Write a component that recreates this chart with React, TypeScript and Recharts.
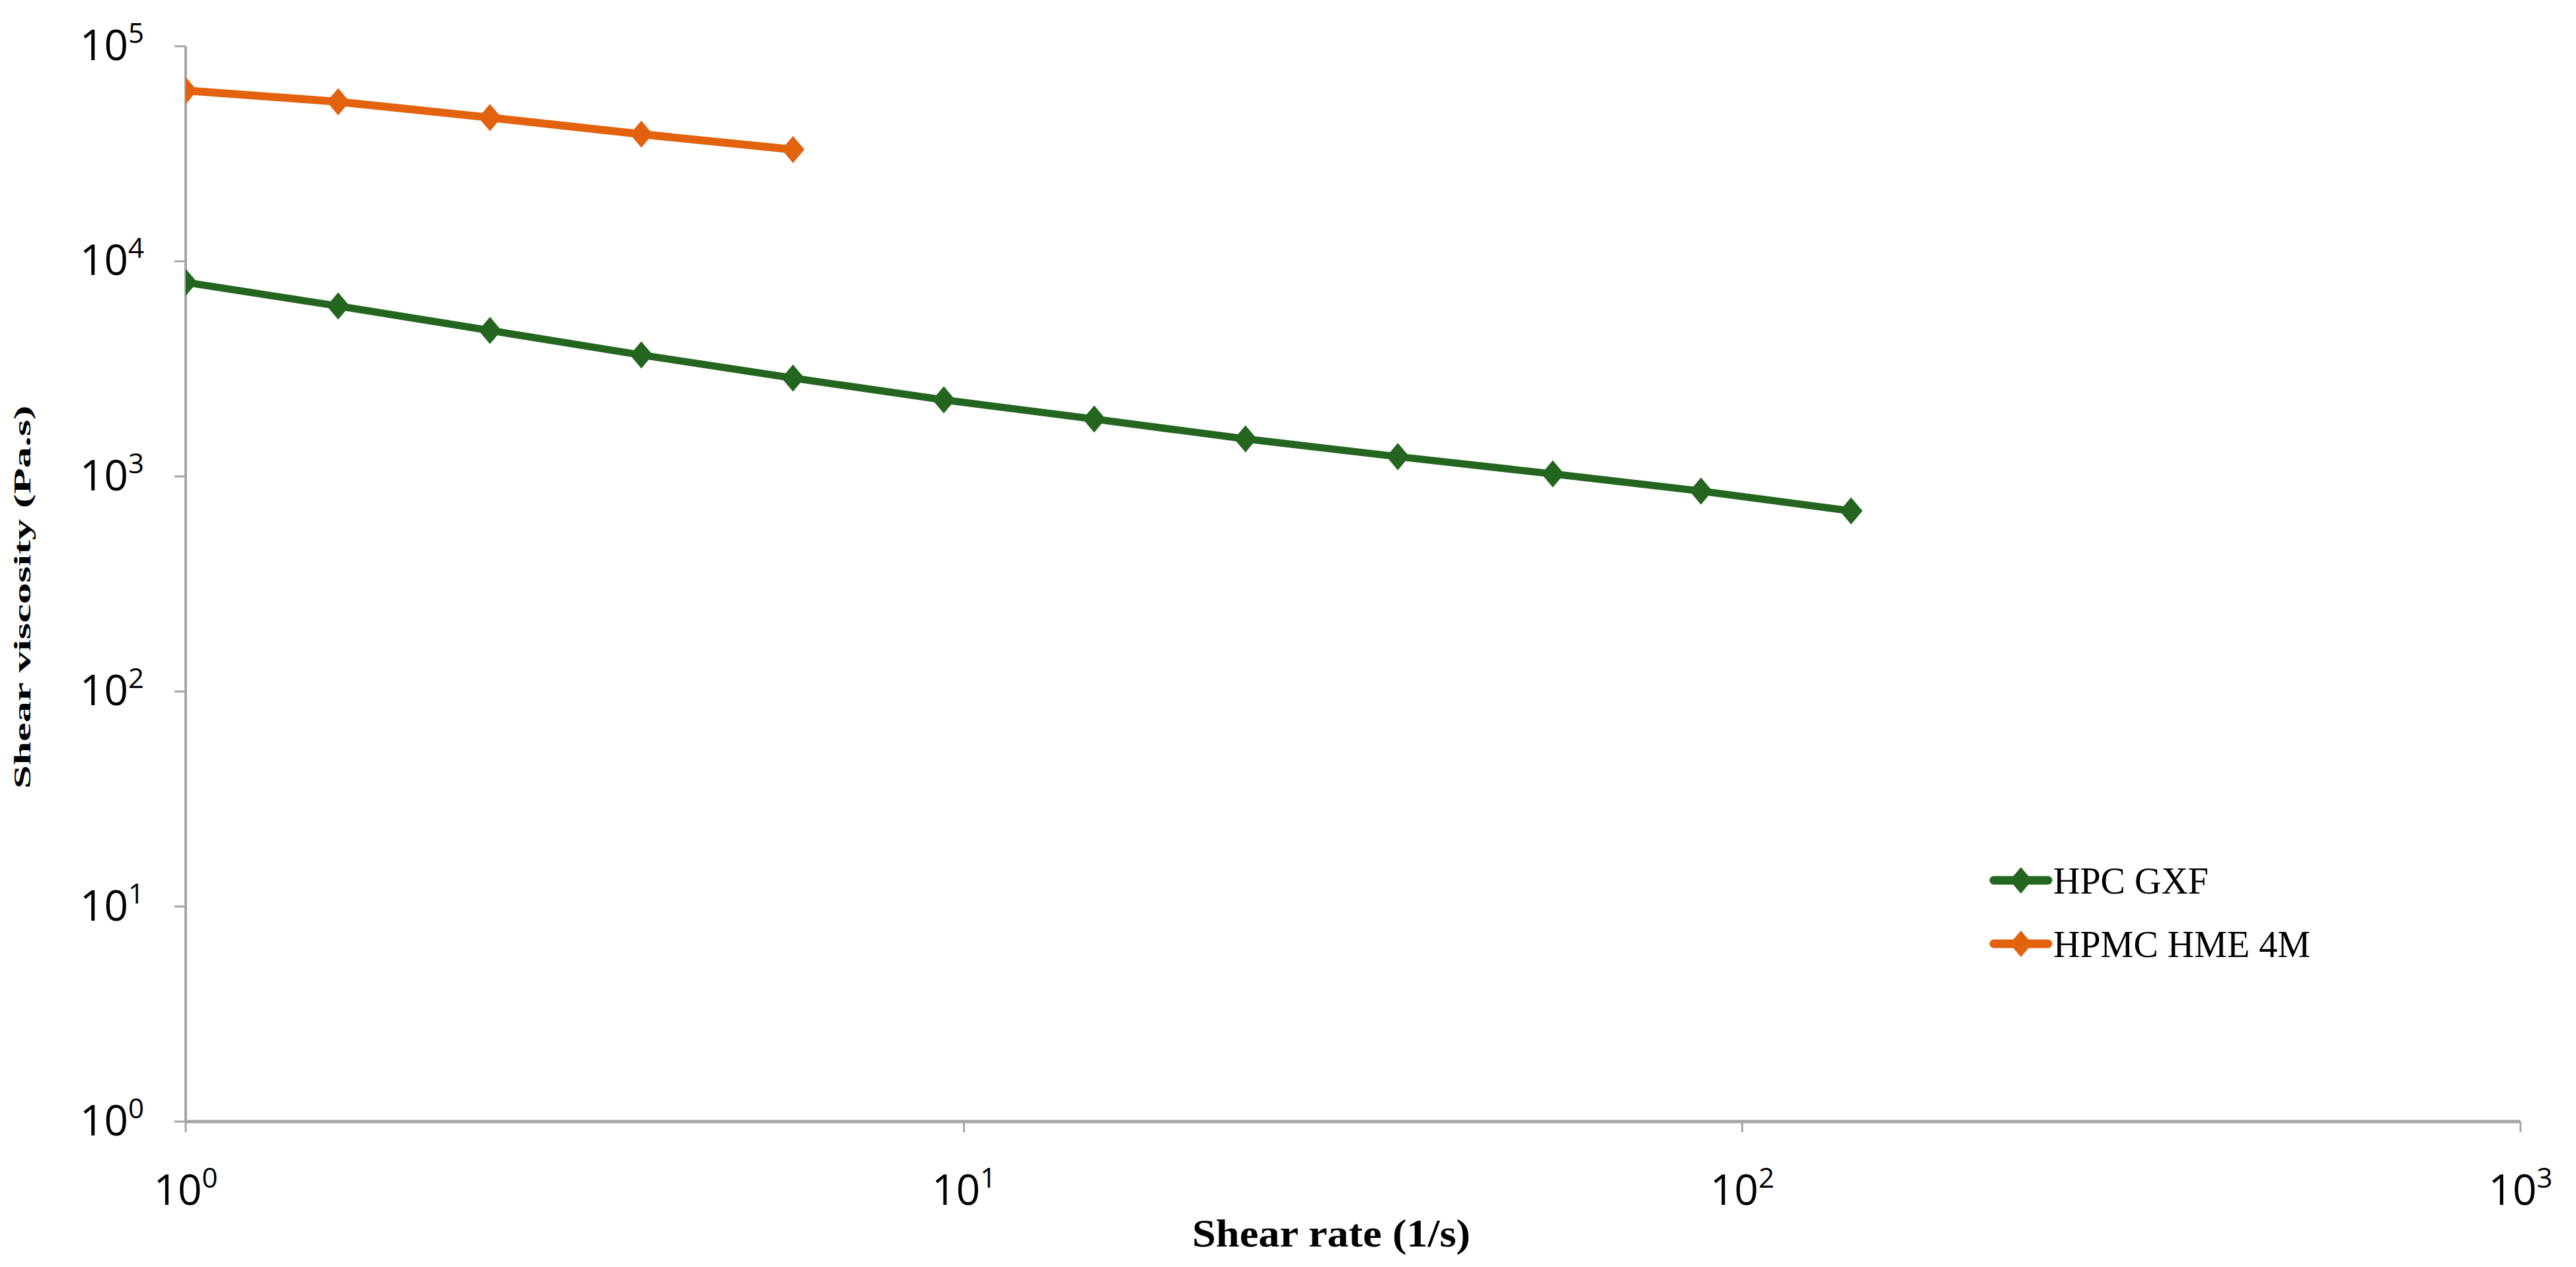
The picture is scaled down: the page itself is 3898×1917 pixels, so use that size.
import React from 'react';
import { LineChart, Line, XAxis, YAxis, Legend, Label } from 'recharts';

// Shear rate (1/s) of each measured point
const shearRate = [1, 1.57, 2.46, 3.85, 6.03, 9.42, 14.7, 23.0, 36.1, 57.1, 88.5, 138];
// Shear viscosity (Pa.s)
const hpcGxf = [7990, 6200, 4770, 3670, 2865, 2270, 1848, 1494, 1236, 1027, 855, 691];
const hpmcHme4m = [62200, 55200, 46600, 39000, 33100];

const seriesNames = ['HPC GXF', 'HPMC HME 4M'];
const seriesColors = ['#24661f', '#e2620e'];
const xTicks = [1, 10, 100, 1000];
const yTicks = [1, 10, 100, 1000, 10000, 100000];
const xTitle = 'Shear rate (1/s)';
const yTitle = 'Shear viscosity (Pa.s)';

const hpcData = shearRate.map((x, i) => ({ x, y: hpcGxf[i] }));
const hpmcData = hpmcHme4m.map((y, i) => ({ x: shearRate[i], y }));

const AXIS = '#a6a6a6';
const TICK_FONT = "'Liberation Sans Narrow', 'Open Sans', Arial, sans-serif";
const SERIF = "'Liberation Serif', 'Times New Roman', serif";

const makeDiamond = (color: string) => (props: any) => {
  const { cx, cy, index } = props;
  if (cx == null || cy == null) return <g key={`e${index}`} />;
  return (
    <path
      key={`d${index}`}
      d={`M${cx},${cy - 19}L${cx + 16},${cy}L${cx},${cy + 19}L${cx - 16},${cy}Z`}
      fill={color}
      stroke={color}
      strokeWidth={2}
    />
  );
};

const exponent = (v: number) => Math.round(Math.log10(v));

const XTick = (props: any) => {
  const { x, y, payload } = props;
  return (
    <text x={x} y={y + 110} textAnchor="middle" fontFamily={TICK_FONT} fontSize={64} fill="#000">
      <tspan>10</tspan>
      <tspan dy={-26} fontSize={42}>{exponent(payload.value)}</tspan>
    </text>
  );
};

const YTick = (props: any) => {
  const { x, y, payload } = props;
  return (
    <text x={x} y={y + 21} textAnchor="end" fontFamily={TICK_FONT} fontSize={64} fill="#000">
      <tspan>10</tspan>
      <tspan dy={-26} fontSize={42}>{exponent(payload.value)}</tspan>
    </text>
  );
};

const XTitle = (props: any) => {
  const vb = props.viewBox;
  return (
    <text
      x={vb.x + vb.width / 2 - 33}
      y={vb.y + 189}
      textAnchor="middle"
      fontFamily={SERIF}
      fontWeight="bold"
      fontSize={60}
      textLength={421}
      lengthAdjust="spacingAndGlyphs"
      fill="#000"
    >
      {xTitle}
    </text>
  );
};

const YTitle = (props: any) => {
  const vb = props.viewBox;
  const cx = vb.x + 46;
  const cy = vb.y + vb.height / 2 + 20;
  return (
    <text
      x={cx}
      y={cy}
      transform={`rotate(-90 ${cx} ${cy})`}
      textAnchor="middle"
      fontFamily={SERIF}
      fontWeight="bold"
      fontSize={35}
      textLength={580}
      lengthAdjust="spacingAndGlyphs"
      fill="#000"
    >
      {yTitle}
    </text>
  );
};

const LegendContent = () => (
  <svg width={620} height={200} style={{ overflow: 'visible' }}>
    {seriesNames.map((name, i) => {
      const cy = 52 + i * 96;
      const c = seriesColors[i];
      return (
        <g key={name}>
          <line x1={0} y1={cy} x2={82} y2={cy} stroke={c} strokeWidth={13} strokeLinecap="round" />
          <path d={`M41,${cy - 20}L58,${cy}L41,${cy + 20}L24,${cy}Z`} fill={c} />
          <text x={90} y={cy + 20} fontFamily={SERIF} fontSize={56} fill="#000">
            {name}
          </text>
        </g>
      );
    })}
  </svg>
);

export default function App() {
  return (
    <div style={{ position: 'absolute', left: 0, top: 0, background: '#fff' }}>
      <LineChart width={3898} height={1917} margin={{ top: 70, right: 84, bottom: 0, left: 0 }}>
        <XAxis
          type="number"
          dataKey="x"
          scale="log"
          domain={[1, 1000]}
          ticks={xTicks}
          allowDataOverflow
          height={220}
          axisLine={{ stroke: AXIS, strokeWidth: 5 }}
          tickLine={{ stroke: AXIS, strokeWidth: 3 }}
          tickSize={16}
          tickMargin={0}
          tick={<XTick />}
          interval={0}
        >
          <Label content={<XTitle />} />
        </XAxis>
        <YAxis
          type="number"
          dataKey="y"
          scale="log"
          domain={[1, 100000]}
          ticks={yTicks}
          allowDataOverflow
          width={281}
          axisLine={{ stroke: AXIS, strokeWidth: 4 }}
          tickLine={{ stroke: AXIS, strokeWidth: 3 }}
          tickSize={17}
          tickMargin={46}
          tick={<YTick />}
          interval={0}
        >
          <Label content={<YTitle />} />
        </YAxis>
        <Legend
          layout="vertical"
          align="center"
          verticalAlign="middle"
          content={<LegendContent />}
          wrapperStyle={{ left: 3017, top: 1280, width: 620, height: 200 }}
        />
        <Line
          data={hpcData}
          dataKey="y"
          name={seriesNames[0]}
          type="linear"
          stroke={seriesColors[0]}
          strokeWidth={11}
          dot={makeDiamond(seriesColors[0])}
          activeDot={false}
          isAnimationActive={false}
        />
        <Line
          data={hpmcData}
          dataKey="y"
          name={seriesNames[1]}
          type="linear"
          stroke={seriesColors[1]}
          strokeWidth={12}
          dot={makeDiamond(seriesColors[1])}
          activeDot={false}
          isAnimationActive={false}
        />
      </LineChart>
    </div>
  );
}
